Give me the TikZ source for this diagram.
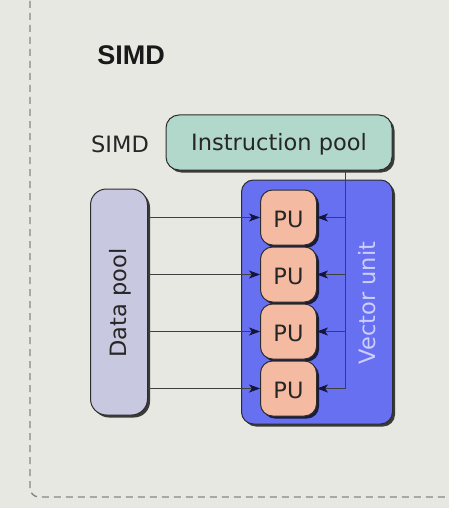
\documentclass[tikz,border=0pt]{standalone}
\usepackage{fontspec}
\setmainfont{DejaVu Sans}
\newfontfamily\titlefont{Liberation Sans}
\usetikzlibrary{shadows,arrows.meta}
\definecolor{bgc}{RGB}{232,232,227}
\definecolor{ipc}{RGB}{178,216,204}
\definecolor{dpc}{RGB}{200,200,224}
\definecolor{vuc}{RGB}{102,112,240}
\definecolor{puc}{RGB}{245,187,162}
\definecolor{edgec}{RGB}{45,45,45}
\definecolor{tipc}{RGB}{20,20,60}
\definecolor{vutext}{RGB}{205,205,255}
\tikzset{
  box/.style={draw=edgec, line width=1pt, rounded corners=13pt, inner sep=0pt,
    drop shadow={shadow xshift=2.5pt, shadow yshift=-2.5pt, opacity=0.75, fill=black}},
  lbl/.style={font=\fontsize{22.5}{26}\selectfont, text=black!85},
  conn/.style={draw=black!75, line width=0.9pt},
  arr/.style={conn, -{Stealth[length=11pt, width=8pt, inset=3pt, color=tipc]}},
}
\begin{document}
\begin{tikzpicture}[x=1pt, y=-1pt]
\useasboundingbox (0,0) rectangle (449,508);
\fill[bgc] (0,0) rectangle (449,508);
\begin{scope}
\clip (0,0) rectangle (449,508);
\draw[gray!95, line width=1.4pt, dash pattern=on 7pt off 5pt, rounded corners=9pt] (30,-20) rectangle (480,497);
\end{scope}
\node[font=\titlefont\bfseries\fontsize{27}{30}\selectfont, text=black!90] (title) at (131,55) {SIMD};
\node[lbl] (simd) at (120,144) {SIMD};
\node[box, fill=ipc, minimum width=226pt, minimum height=55pt] (ip) at (279,142.5) {};
\node[lbl] (iptext) at (279,144) {Instruction pool};
\node[box, fill=dpc, minimum width=57pt, minimum height=226pt, rounded corners=16pt] (dp) at (119,302) {};
\node[lbl, rotate=90] (dptext) at (120,303) {Data pool};
\node[box, fill=vuc, minimum width=151pt, minimum height=244pt, rounded corners=12pt] (vu) at (317,302) {};
\node[lbl, rotate=90, text=vutext] (vutext) at (367,303) {Vector unit};
\foreach \i/\y in {1/217.5,2/274.5,3/331.5,4/388.5} {
  \node[box, fill=puc, minimum width=56pt, minimum height=55pt, rounded corners=12pt] (pu\i) at (288.5,\y) {};
  \node[lbl] at ([yshift=-1.5pt]pu\i.center) {PU};
  \coordinate (c\i) at (345,\y);
}
\draw[conn] (ip.south -| c1) -- (c4);
\foreach \i in {1,...,4} {
  \draw[arr] (c\i) -- (pu\i.east);
  \draw[arr] (dp.east |- pu\i.center) -- (pu\i.west);
}
\end{tikzpicture}
\end{document}
